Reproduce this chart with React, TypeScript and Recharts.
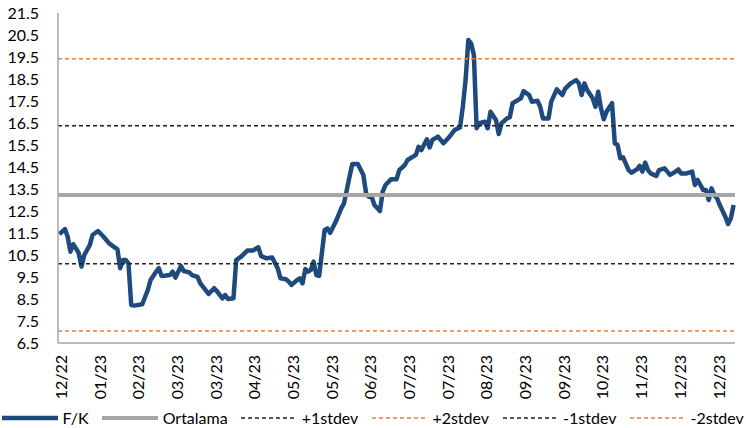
import { LineChart, Line, XAxis, YAxis, ReferenceLine } from "recharts";

// trading-day index and F/K value
const DAY = [
  0, 2, 3, 4, 5, 6, 7, 8, 9, 11, 12, 14, 16, 18, 20, 21, 22, 23, 24, 25, 26, 27, 30, 32, 33, 35, 36, 37, 38, 40,
  41, 42, 44, 45, 47, 48, 50, 51, 54, 56, 57, 59, 60, 61, 63, 64, 66, 68, 70, 72, 73, 75, 77, 79, 80, 82, 83, 84,
  86, 87, 88, 89, 90, 91, 92, 93, 94, 96, 97, 98, 100, 102, 103, 104, 105, 106, 108, 110, 111, 112, 113, 114, 116,
  117, 118, 120, 122, 123, 125, 126, 129, 130, 131, 133, 134, 135, 137, 139, 141, 143, 145, 146, 147, 148, 149,
  150, 151, 152, 154, 155, 156, 158, 159, 160, 162, 163, 164, 167, 168, 170, 171, 173, 174, 175, 177, 178, 180,
  182, 183, 185, 187, 188, 189, 190, 191, 193, 194, 195, 196, 197, 198, 200, 201, 202, 203, 204, 206, 207, 209,
  210, 211, 212, 213, 214, 216, 217, 219, 221, 223, 224, 225, 227, 229, 230, 231, 232, 233, 234, 235, 236, 237,
  238, 239, 241, 242, 243, 244,
];
const FK = [
  11.45, 11.68, 11.33, 10.65, 10.99, 10.8, 10.58, 9.97, 10.5, 10.95, 11.41, 11.59, 11.33, 11.03, 10.85, 10.76, 9.9,
  10.27, 10.27, 10.12, 8.23, 8.2, 8.26, 8.91, 9.36, 9.74, 9.9, 9.55, 9.56, 9.59, 9.74, 9.47, 10.0, 9.77, 9.71, 9.59,
  9.51, 9.21, 8.73, 8.99, 8.86, 8.53, 8.68, 8.5, 8.53, 10.27, 10.45, 10.7, 10.7, 10.85, 10.45, 10.35, 10.39, 9.9,
  9.44, 9.4, 9.29, 9.14, 9.36, 9.44, 9.21, 9.86, 9.74, 9.82, 10.2, 9.59, 9.55, 11.64, 11.71, 11.51, 12.01, 12.62,
  12.85, 13.45, 14.06, 14.64, 14.64, 14.14, 13.3, 13.15, 13.15, 12.77, 12.5, 13.38, 13.68, 13.94, 13.94, 14.36,
  14.59, 14.82, 15.05, 15.42, 15.27, 15.76, 15.39, 15.73, 15.88, 15.58, 15.85, 16.18, 16.3, 17.24, 18.45, 20.27,
  20.12, 19.59, 16.26, 16.49, 16.56, 16.26, 17.01, 16.64, 16.0, 16.49, 16.71, 16.76, 17.4, 17.62, 17.95, 17.77,
  17.47, 17.51, 17.24, 16.71, 16.71, 17.47, 18.03, 17.77, 18.05, 18.3, 18.45, 18.3, 17.77, 18.3, 18.0, 17.62,
  17.24, 17.92, 17.17, 16.67, 17.01, 17.4, 15.58, 15.5, 14.9, 14.94, 14.36, 14.24, 14.39, 14.55, 14.29, 14.7,
  14.36, 14.21, 14.09, 14.36, 14.44, 14.14, 14.29, 14.39, 14.21, 14.21, 14.29, 13.68, 13.91, 13.68, 13.45, 13.45,
  13.0, 13.53, 13.23, 13.08, 12.77, 12.24, 11.91, 12.17, 12.77,
];

const X_LABELS = [
  "12/22", "01/23", "02/23", "03/23", "03/23", "04/23", "05/23", "05/23", "06/23",
  "07/23", "07/23", "08/23", "09/23", "09/23", "10/23", "11/23", "12/23", "12/23",
];
const LABEL_STEP = 14;
const Y_TICKS = [6.5, 7.5, 8.5, 9.5, 10.5, 11.5, 12.5, 13.5, 14.5, 15.5, 16.5, 17.5, 18.5, 19.5, 20.5, 21.5];

const BAND_NAMES = ["Ortalama", "+1stdev", "+2stdev", "-1stdev", "-2stdev"];
const BAND_VALUES = [13.23, 16.37, 19.42, 10.1, 7.05];

const FONT = "Lato, 'Noto Sans', sans-serif";
const NAVY = "#1F4A7E";
const GREY = "#A6A6A6";
const ORANGE = "#ED7D31";

const bandStyle: Record<string, { stroke: string; width: number; dash?: string }> = {
  Ortalama: { stroke: GREY, width: 4 },
  "+1stdev": { stroke: "#222", width: 1.5, dash: "4 3" },
  "+2stdev": { stroke: ORANGE, width: 1.5, dash: "4 3" },
  "-1stdev": { stroke: "#222", width: 1.5, dash: "4 3" },
  "-2stdev": { stroke: ORANGE, width: 1.5, dash: "4 3" },
};

const data = DAY.map((d, i) => ({ day: d, fk: FK[i] }));
const xTicks = X_LABELS.map((_, i) => i * LABEL_STEP);

function XTick(props: any) {
  const { x, y, payload } = props;
  const label = X_LABELS[Math.round(payload.value / LABEL_STEP)] ?? "";
  return (
    <text
      transform={`translate(${x + 1},${y}) rotate(-90)`}
      textAnchor="end"
      dominantBaseline="central"
      fontSize={16}
      fontFamily={FONT}
      fill="#000"
    >
      {label}
    </text>
  );
}

function LegendItem({ name, stroke, width, dash }: { name: string; stroke: string; width: number; dash?: string }) {
  return (
    <div style={{ display: "flex", alignItems: "center", marginRight: 13.5 }}>
      <svg width={56} height={10} style={{ marginRight: 4.5 }}>
        <line x1={0} x2={56} y1={5} y2={5} stroke={stroke} strokeWidth={width} strokeDasharray={dash} />
      </svg>
      <span>{name}</span>
    </div>
  );
}

export default function App() {
  return (
    <div style={{ position: "absolute", left: 0, top: 0, width: 746, height: 428, background: "#fff", fontFamily: FONT }}>
      <LineChart width={746} height={428} data={data} margin={{ top: 13, right: 11, left: 0, bottom: 0 }}>
        <XAxis
          dataKey="day"
          type="number"
          domain={[-0.5, 244.5]}
          ticks={xTicks}
          interval={0}
          tick={<XTick />}
          tickSize={0}
          tickMargin={12}
          height={85}
          stroke={GREY}
          strokeWidth={1.5}
        />
        <YAxis
          domain={[6.5, 21.5]}
          ticks={Y_TICKS}
          interval={0}
          width={58}
          tickSize={0}
          tickMargin={19}
          tick={{ fontSize: 16, fill: "#000", fontFamily: FONT }}
          stroke={GREY}
          strokeWidth={1.5}
          tickFormatter={(v: number) => v.toFixed(1)}
        />
        <Line
          type="linear"
          dataKey="fk"
          stroke={NAVY}
          strokeWidth={4.5}
          dot={false}
          isAnimationActive={false}
          strokeLinejoin="round"
        />
        {BAND_NAMES.map((n, i) => (
          <ReferenceLine
            key={n}
            y={BAND_VALUES[i]}
            stroke={bandStyle[n].stroke}
            strokeWidth={bandStyle[n].width}
            strokeDasharray={bandStyle[n].dash}
          />
        ))}
      </LineChart>
      <div
        style={{
          position: "absolute",
          left: 2,
          top: 408,
          display: "flex",
          alignItems: "center",
          fontSize: 16,
          color: "#000",
          whiteSpace: "nowrap",
        }}
      >
        <LegendItem name="F/K" stroke={NAVY} width={4.5} />
        {BAND_NAMES.map((n) => (
          <LegendItem key={n} name={n} {...bandStyle[n]} />
        ))}
      </div>
    </div>
  );
}
